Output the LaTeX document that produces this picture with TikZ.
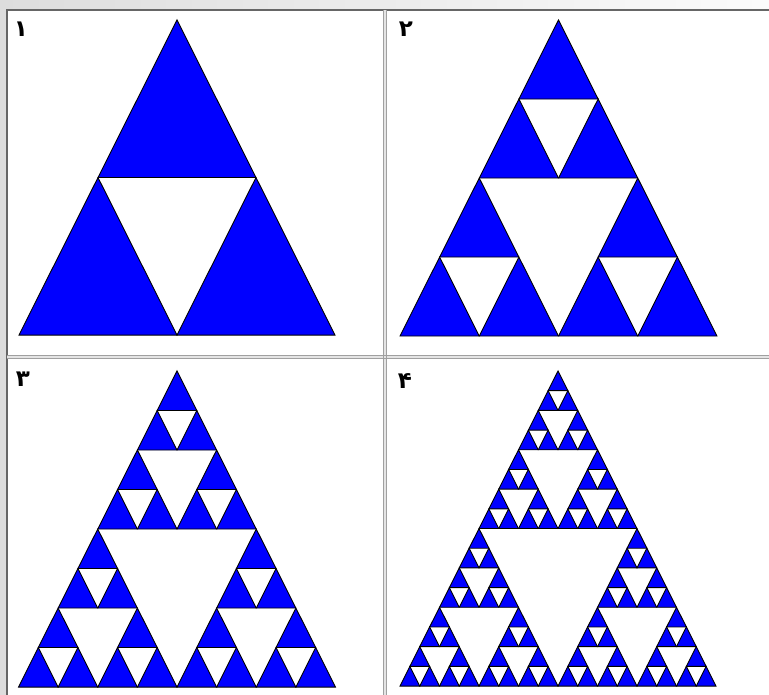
\documentclass[tikz,border=0pt]{standalone}
\usepackage{fontspec}
\newfontfamily\arabicfont[Script=Arabic]{DejaVu Sans}
\definecolor{bgray}{HTML}{DDDDDD}
\definecolor{frame}{HTML}{666666}
\definecolor{divline}{HTML}{A0A0A0}
\definecolor{divmid}{HTML}{E4E4E4}
\tikzset{
  tri/.style={fill={rgb,255:red,0;green,0;blue,255}, draw=black, line width=0.9pt, line join=miter},
  lbl/.style={font=\arabicfont\bfseries\fontsize{23}{23}\selectfont, inner sep=0pt, text=black}
}
\def\kk{0.997}
\def\sierp#1#2#3#4{%
  \ifnum#4=0
    \path[tri] (#1,#2) -- ({#1-#3/2},{#2+\kk*#3}) -- ({#1+#3/2},{#2+\kk*#3}) -- cycle;
  \else
    \begingroup
    \pgfmathsetmacro\hw{#3/2}%
    \pgfmathsetmacro\xl{#1-#3/4}%
    \pgfmathsetmacro\xr{#1+#3/4}%
    \pgfmathsetmacro\yl{#2+\kk*#3/2}%
    \edef\dd{\the\numexpr#4-1\relax}%
    \edef\tmp{\noexpand\sierp{#1}{#2}{\hw}{\dd}\noexpand\sierp{\xl}{\yl}{\hw}{\dd}\noexpand\sierp{\xr}{\yl}{\hw}{\dd}}%
    \tmp
    \endgroup
  \fi}
\begin{document}
\begin{tikzpicture}[x=1pt,y=-1pt]
\useasboundingbox (0,0) rectangle (769,695);
% outer background
\shade[left color=bgray, right color=gray!3] (0,0) rectangle (769,10);
\fill[bgray] (0,0) rectangle (7,695);
\fill[white] (7,10) rectangle (769,695);
% frame lines
\draw[frame, line width=2pt] (7,695) -- (7,10) -- (769,10);
% dividers
\fill[divmid] (383,10) rectangle (387,695);
\fill[divmid] (7,355) rectangle (769,359);
\draw[divline, line width=1.3pt] (383.3,10) -- (383.3,695);
\draw[divline, line width=1.3pt] (386.7,10) -- (386.7,695);
\draw[divline, line width=1.3pt] (7,355.3) -- (769,355.3);
\draw[divline, line width=1.3pt] (7,358.7) -- (769,358.7);
\fill[divmid] (384,356) rectangle (386,358);
% triangles
\sierp{177}{20}{316}{1}
\sierp{558.5}{20}{317}{2}
\sierp{177}{371}{317}{3}
\sierp{558}{371}{316}{4}
% labels
\node[lbl] (l1) at (21,29) {۱};
\node[lbl] (l2) at (406,29) {۲};
\node[lbl] (l3) at (23,379) {۳};
\node[lbl] (l4) at (405,381) {۴};
\end{tikzpicture}
\end{document}
